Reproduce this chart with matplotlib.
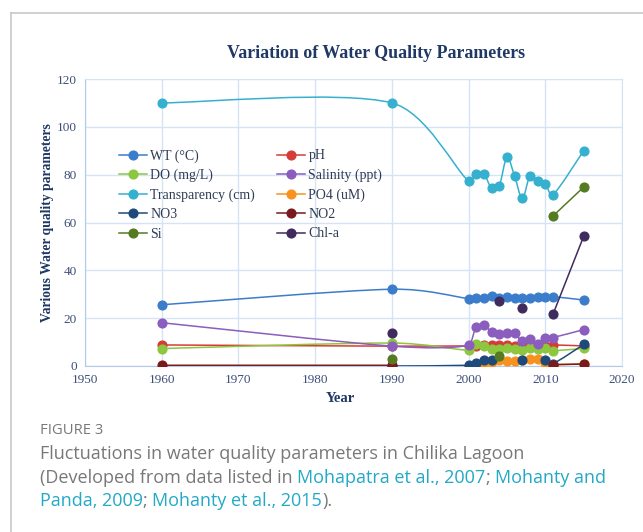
import numpy as np
import matplotlib.pyplot as plt
from matplotlib.path import Path
from matplotlib.patches import PathPatch
from matplotlib.lines import Line2D
from matplotlib import font_manager

# data (None = no value that year)
N = None
years = [1960, 1990, 2000, 2001, 2002, 2003, 2004, 2005, 2006, 2007, 2008, 2009, 2010, 2011, 2015]
wt = [25.6, 32.1, 28.2, 28.4, 28.6, 29.4, 28.5, 28.9, 28.3, 28.3, 28.5, 28.8, 29.0, 29.0, 27.6]
ph = [8.8, 8.3, 8.4, 8.3, 8.6, 8.6, 8.6, 8.6, 8.5, 8.4, 8.3, 8.4, 8.5, 8.8, 8.4]
do = [7.3, 9.6, 6.6, 9.0, 8.3, 7.0, 7.2, 7.6, 7.1, 6.8, 7.6, 7.1, 7.4, 6.4, 7.4]
salinity = [18.1, 8.3, 8.7, 16.4, 17.0, 14.3, 13.5, 13.8, 13.6, 10.4, 11.2, 9.4, 11.5, 11.9, 15.2]
transparency = [110, 110, 77.3, 80.4, 80.4, 74.3, 75.3, 87.2, 79.4, 70.1, 79.4, 77.4, 76.2, 71.6, 90.0]
po4 = [N, N, 0.0, 0.2, 1.1, 1.6, 2.4, 2.2, 2.2, 2.4, 3.1, 3.0, 1.3, 0.5, 1.0]
no3 = [N, 0.0, 0.3, 1.3, 2.3, 2.5, N, N, N, 2.7, N, N, 2.5, 1.0, 9.0]
no2 = [0.3, 0.3, N, N, N, N, N, N, N, N, N, N, N, 0.6, 0.8]
si = [N, 2.9, N, N, N, N, 4.3, N, N, N, N, N, N, 62.7, 74.8]
chla = [N, 13.6, N, N, N, N, 27.2, N, N, 24.4, N, N, N, 21.6, 54.2]

series = [
    ("WT (°C)", wt, "#3C7DCB"),
    ("pH", ph, "#D63C37"),
    ("DO (mg/L)", do, "#8DC63F"),
    ("Salinity (ppt)", salinity, "#8A5DBE"),
    ("Transparency (cm)", transparency, "#36B0CF"),
    ("PO4 (uM)", po4, "#F7921E"),
    ("NO3", no3, "#1D4A7A"),
    ("NO2", no2, "#7A1A1C"),
    ("Si", si, "#557A22"),
    ("Chl-a", chla, "#402B5E"),
]

navy = "#1F3864"
tick_col = "#3D4F78"
grid_col = "#D5E3F5"
serif = "Liberation Serif"


def weight_num(w):
    if isinstance(w, (int, float)):
        return w
    return {"light": 300, "normal": 400, "regular": 400, "medium": 500,
            "semibold": 600, "bold": 700}.get(str(w), 400)


# pick a normal-width regular Open Sans file (avoid condensed variants)
cap_font = None
for f in font_manager.fontManager.ttflist:
    if f.name == "Open Sans" and f.style == "normal" and "ondensed" not in f.fname \
            and f.stretch in ("normal", 500, "medium"):
        if cap_font is None or abs(weight_num(f.weight) - 400) < abs(weight_num(cap_font.weight) - 400):
            cap_font = f
if cap_font is not None:
    cap_prop = font_manager.FontProperties(fname=cap_font.fname)
else:
    cap_prop = font_manager.FontProperties(family="Open Sans")


def smooth_path(xs, ys):
    # excel-like smoothed line, broken at missing values
    runs, cur = [], []
    for a, b in zip(xs, ys):
        if b is None:
            if cur:
                runs.append(cur)
            cur = []
        else:
            cur.append((a, b))
    if cur:
        runs.append(cur)
    verts, codes = [], []
    for run in runs:
        if len(run) < 2:
            continue
        p = np.array(run, float)
        verts.append(p[0]); codes.append(Path.MOVETO)
        for i in range(len(p) - 1):
            p0 = p[max(i - 1, 0)]; p1 = p[i]; p2 = p[i + 1]; p3 = p[min(i + 2, len(p) - 1)]
            dx = p2[0] - p1[0]
            d1 = (p2 - p0) / 6
            d2 = (p3 - p1) / 6
            if d1[0] > dx * 0.45:
                d1 = d1 * dx * 0.45 / d1[0]
            if d2[0] > dx * 0.45:
                d2 = d2 * dx * 0.45 / d2[0]
            verts += [p1 + d1, p2 - d2, p2]
            codes += [Path.CURVE4] * 3
    if not verts:
        return None
    return Path(verts, codes)


fig = plt.figure(figsize=(6.43, 5.32), dpi=100)
ax = fig.add_axes([85 / 643, 1 - 366 / 532, 537 / 643, 287 / 532])

handles = {}
for k, (name, vals, col) in enumerate(series):
    path = smooth_path(years, vals)
    if path is not None:
        ax.add_patch(PathPatch(path, facecolor="none", edgecolor=col, lw=1.1, zorder=3 + k))
    xv = [x for x, v in zip(years, vals) if v is not None]
    yv = [v for v in vals if v is not None]
    ax.plot(xv, yv, linestyle="none", marker="o", ms=6.3, color=col, mec=col, zorder=3 + k)
    handles[name] = Line2D([0], [0], color=col, lw=1.1, marker="o", ms=6.3, mec=col)

ax.set_xlim(1950, 2020)
ax.set_ylim(0, 120)
ax.set_xticks(np.arange(1950, 2021, 10))
ax.set_yticks(np.arange(0, 121, 20))
ax.grid(True, color=grid_col, lw=1.0)
ax.set_axisbelow(True)
for s in ax.spines.values():
    s.set_color(grid_col)
ax.spines["left"].set_color("#B4C8E8")
ax.spines["bottom"].set_color("#B4C8E8")
ax.tick_params(length=0, pad=6, labelsize=9.5, labelcolor=tick_col)
for lab in ax.get_xticklabels() + ax.get_yticklabels():
    lab.set_fontfamily(serif)

ax.set_xlabel("Year", fontfamily=serif, fontweight="bold", fontsize=10.5, color=navy)
ax.xaxis.set_label_coords((340 - 85) / 537, -0.09)
ax.set_ylabel("Various Water quality parameters", fontfamily=serif, fontweight="bold",
              fontsize=9.8, color=navy)
ax.yaxis.set_label_coords((54 - 85) / 537, 0.5)

fig.text(376 / 643, 1 - 54 / 532, "Variation of Water Quality Parameters", fontfamily=serif,
         fontweight="bold", fontsize=12.9, color=navy, ha="center", va="center")

order = ["WT (°C)", "DO (mg/L)", "Transparency (cm)", "NO3", "Si",
         "pH", "Salinity (ppt)", "PO4 (uM)", "NO2", "Chl-a"]
ax.legend([handles[o] for o in order], order, ncol=2, frameon=False,
          loc="upper left", bbox_to_anchor=(0.053, 0.775),
          prop={"family": serif, "size": 10}, labelcolor="#2F3B55",
          handlelength=2.0, handletextpad=0.25, columnspacing=1.6,
          labelspacing=0.45, borderaxespad=0)

# page frame
fig.add_artist(Line2D([11 / 643, 1], [1 - 13 / 532, 1 - 13 / 532], color="#C8C8C8", lw=1.2))
fig.add_artist(Line2D([11 / 643, 11 / 643], [0, 1 - 13 / 532], color="#C8C8C8", lw=1.2))

# caption
grey = "#787878"
link = "#22A9C6"
fig.text(40 / 643, 1 - 430 / 532, "FIGURE 3", fontproperties=cap_prop, size=10.6, color=grey,
         va="center")
renderer = fig.canvas.get_renderer()


def caption_line(y, parts):
    x = 40 / 643
    for s, c in parts:
        t = fig.text(x, 1 - y / 532, s, color=c, fontproperties=cap_prop, size=13.0, va="center")
        x += t.get_window_extent(renderer=renderer).width / fig.bbox.width


caption_line(454, [("Fluctuations in water quality parameters in Chilika Lagoon", grey)])
caption_line(478, [("(Developed from data listed in ", grey), ("Mohapatra et al., 2007", link),
                   ("; ", grey), ("Mohanty and", link)])
caption_line(501, [("Panda, 2009", link), ("; ", grey), ("Mohanty et al., 2015", link),
                   (").", grey)])

fig.savefig("out.png", dpi=100)
